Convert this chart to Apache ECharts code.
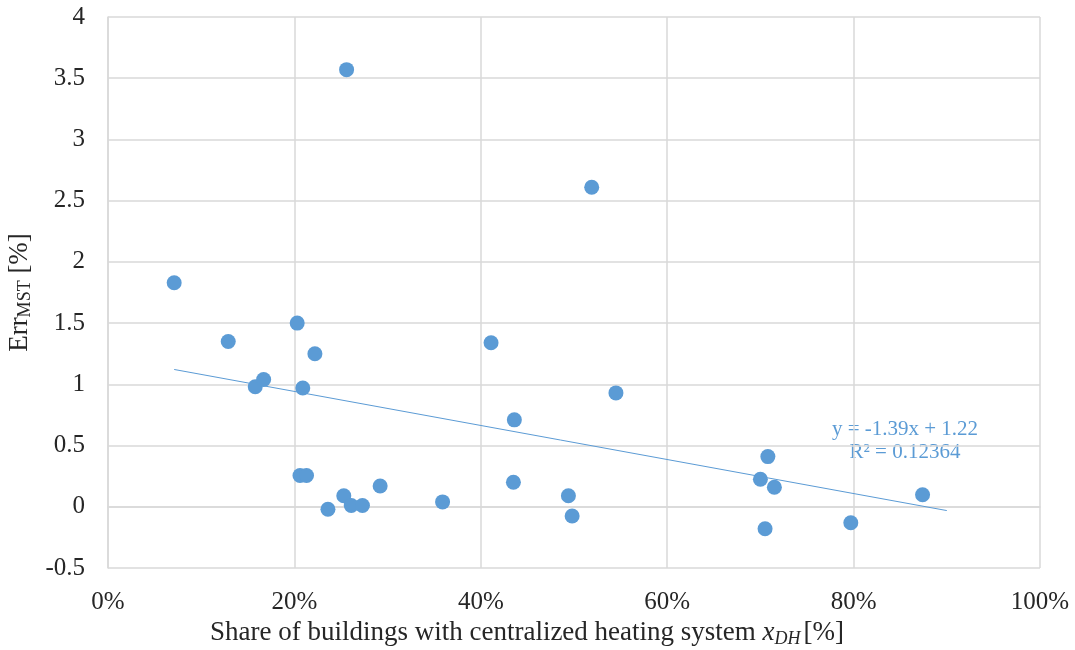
<!DOCTYPE html>
<html>
<head>
<meta charset="utf-8">
<script src="https://cdn.jsdelivr.net/npm/echarts@6/dist/echarts.min.js"></script>
<style>
  html, body { margin: 0; padding: 0; background: #fff; }
</style>
</head>
<body>
<div id="MyChart" style="width: 1075px; height: 650px;"></div>
<script>
// share of buildings with centralized heating (fraction) and Err_MST [%]
const shareDH = [
  0.071, 0.129, 0.158, 0.167, 0.203, 0.209, 0.222, 0.206, 0.213, 0.236,
  0.253, 0.261, 0.273, 0.292, 0.256, 0.359, 0.411, 0.436, 0.435, 0.494,
  0.498, 0.545, 0.519, 0.700, 0.708, 0.715, 0.705, 0.797, 0.874
]
const errMST = [
  1.83, 1.35, 0.98, 1.04, 1.50, 0.97, 1.25, 0.255, 0.255, -0.02,
  0.09, 0.01, 0.01, 0.17, 3.57, 0.04, 1.34, 0.71, 0.20, 0.09,
  -0.075, 0.93, 2.61, 0.225, 0.41, 0.16, -0.18, -0.13, 0.098
]
// linear trendline as printed on the chart
const trendSlope = -1.39
const trendIntercept = 1.22
const trendEnd = 0.90
const xTicks = ['0%', '20%', '40%', '60%', '80%', '100%']

const blue = '#5b9bd5'
const serif = '"Liberation Serif", "Times New Roman", serif'

let points = []
for (let i = 0; i < shareDH.length; i++) {
  points.push([shareDH[i], errMST[i]])
}
const trendStart = Math.min(...shareDH)
const trend = [
  [trendStart, trendSlope * trendStart + trendIntercept],
  [trendEnd, trendSlope * trendEnd + trendIntercept]
]

let myChart = echarts.init(document.getElementById('MyChart'))
let option = {
  animation: false,
  backgroundColor: '#fff',
  grid: { left: 108, top: 17, right: 35, bottom: 82, containLabel: false, outerBoundsMode: 'none' },
  xAxis: {
    type: 'value',
    min: 0, max: 1, interval: 0.2,
    axisLine: { show: true, lineStyle: { color: '#d9d9d9', width: 1.5 } },
    axisTick: { show: false },
    splitLine: { show: true, lineStyle: { color: '#d9d9d9', width: 1.5 } },
    axisLabel: {
      margin: 22,
      fontFamily: serif, fontSize: 25, color: '#262626',
      formatter: function (v) { return xTicks[Math.round(v * 5)] }
    },
    name: '{t|Share of buildings with centralized heating system }{it|x}{sub|DH}{t|[%]}',
    nameLocation: 'middle',
    nameGap: 49,
    nameTextStyle: {
      padding: [0, 94, 0, 0],
      rich: {
        t: { fontFamily: serif, fontSize: 27, color: '#262626' },
        it: { fontFamily: serif, fontSize: 27, fontStyle: 'italic', color: '#262626' },
        sub: { fontFamily: serif, fontSize: 18, fontStyle: 'italic', color: '#262626', padding: [12, 3, 0, 0] }
      }
    }
  },
  yAxis: {
    type: 'value',
    min: -0.5, max: 4, interval: 0.5,
    axisLine: { show: true, lineStyle: { color: '#d9d9d9', width: 1.5 } },
    axisTick: { show: false },
    splitLine: { show: true, lineStyle: { color: '#d9d9d9', width: 1.5 } },
    axisLabel: {
      margin: 23,
      fontFamily: serif, fontSize: 25, color: '#262626'
    },
    name: '{t|Err}{sub|MST}{t| [%]}',
    nameLocation: 'middle',
    nameRotate: 90,
    nameGap: 71,
    nameTextStyle: {
      rich: {
        t: { fontFamily: serif, fontSize: 27, color: '#262626' },
        sub: { fontFamily: serif, fontSize: 18, color: '#262626', padding: [12, 0, 0, 0] }
      }
    }
  },
  graphic: [
    {
      type: 'text', x: 905, y: 418,
      style: {
        text: 'y = -1.39x + 1.22\nR² = 0.12364',
        fill: blue, font: '21px ' + serif,
        align: 'center', verticalAlign: 'top', lineHeight: 23
      }
    }
  ],
  series: [
    {
      name: 'Err',
      type: 'scatter',
      data: points,
      symbolSize: 15,
      itemStyle: { color: blue, opacity: 1 },
      z: 3
    },
    {
      name: 'trend',
      type: 'line',
      data: trend,
      symbol: 'none',
      lineStyle: { color: blue, width: 1 },
      z: 2
    }
  ]
}
myChart.setOption(option)
</script>
</body>
</html>
